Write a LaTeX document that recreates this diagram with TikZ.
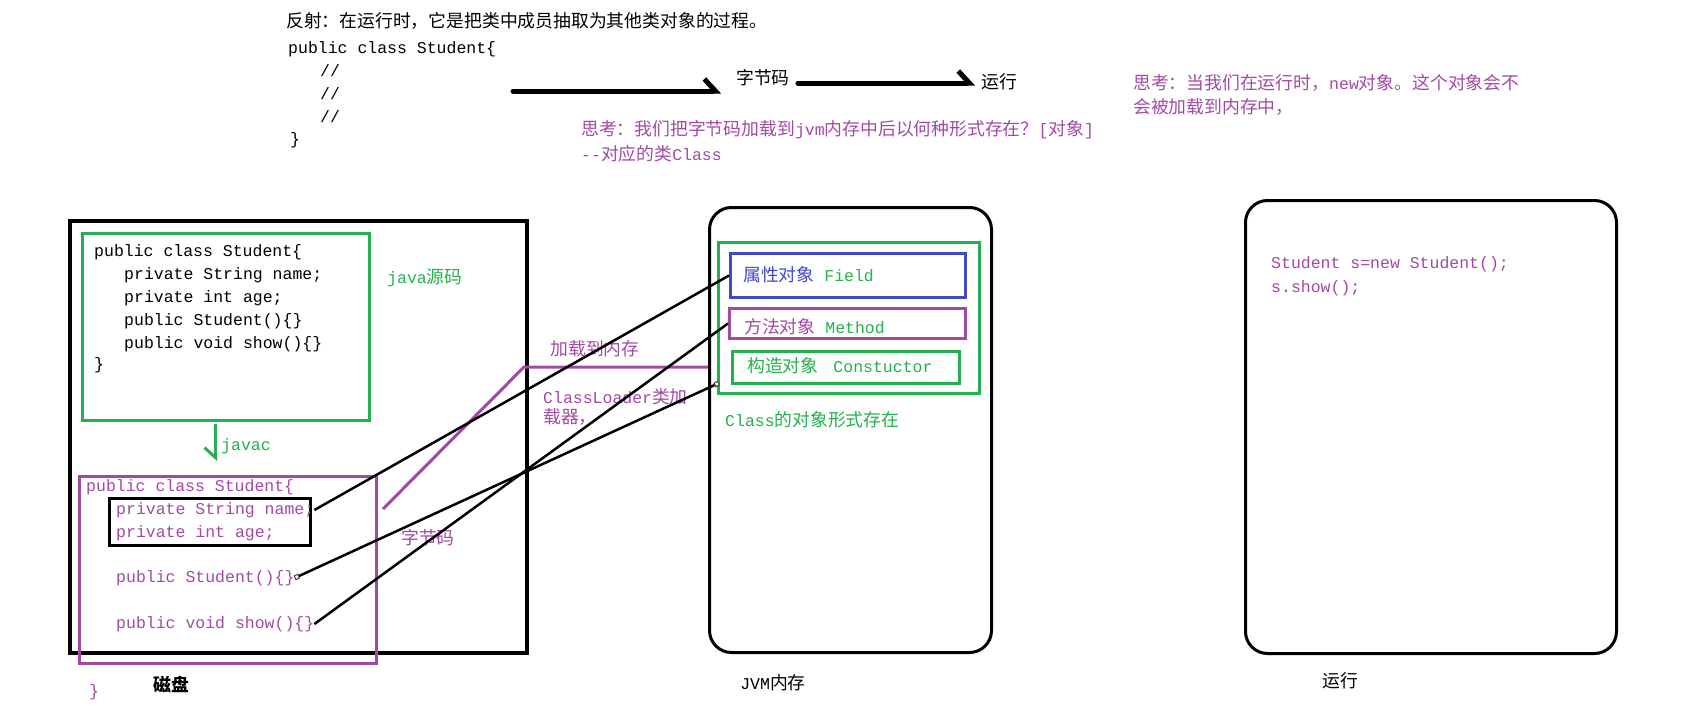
\documentclass[tikz,border=0pt]{standalone}
\usepackage{fontspec}
\setmonofont{Liberation Mono}
\newfontfamily\zhfont[Scale=1.08]{Noto Sans CJK SC}
\newcommand\zh[1]{{\zhfont #1}}
\usetikzlibrary{arrows.meta}
\definecolor{paintpurple}{RGB}{163,73,164}
\definecolor{paintgreen}{RGB}{34,177,76}
\definecolor{paintblue}{RGB}{63,72,204}

\begin{document}
\begin{tikzpicture}[x=1pt,y=-1pt,
    every node/.style={inner sep=0pt,font=\fontsize{16.5}{20}\selectfont\ttfamily},
    code/.style={anchor=west},
    plainbox/.style={draw,line width=3pt,anchor=north west},
    roundbox/.style={plainbox,rounded corners=22pt},
    wire/.style={line width=2.5pt},
    fatarrow/.style={line width=5pt,line cap=round,-{Straight Barb[left,length=11pt,width=24pt]}},
    thinarrow/.style={line width=3pt,-{Straight Barb[right,length=10pt,width=22pt]}},
    purpleline/.style={paintpurple,line width=3pt}]
      \useasboundingbox (0,0) rectangle (1690,728);

      % top: reflection note
      \node[code] (title) at (286,21) {\zh{反射：在运行时，它是把类中成员抽取为其他类对象的过程。}};
      \node[code] (tophead) at (288,49) {public class Student\{};
      \foreach \y [count=\i] in {71,94,117}
      \node[code] (topc\i) at (320,\y) {//};
      \node[code] (topend) at (290,140) {\}};

      \node (topbyte) at (763,78) {\zh{字节码}};
      \node (toprun) at (999,82) {\zh{运行}};
      \coordinate (srcout) at (513,91);
      \draw[fatarrow] (srcout) -- ([xshift=-15pt,yshift=-13pt]topbyte.west);
      \draw[fatarrow] ([xshift=8pt,yshift=-5pt]topbyte.east) -- ([xshift=-6pt,yshift=-1pt]toprun.west);

      % questions
      \node[code,text=paintpurple] (ask1) at (581,130) {\zh{思考：我们把字节码加载到}jvm\zh{内存中后以何种形式存在？}[\zh{对象}]};
      \node[code,text=paintpurple] (ask2) at (581,154) {-{}-\zh{对应的类}Class};
      \node[code,text=paintpurple] (ask3) at (1133,83) {\zh{思考：当我们在运行时，}new\zh{对象。这个对象会不}};
      \node[code,text=paintpurple] (ask4) at (1133,107) {\zh{会被加载到内存中，}};

      % disk
      \node[plainbox,line width=4pt,minimum width=457pt,minimum height=432pt] (disk) at (68,219) {};
      \node[plainbox,draw=paintgreen,minimum width=287pt,minimum height=187pt] (src) at (81,232) {};
      \node[code] (s1) at (94,252) {public class Student\{};
      \node[code] (s2) at (124,275) {private String name;};
      \node[code] (s3) at (124,298) {private int age;};
      \node[code] (s4) at (124,321) {public Student()\{\}};
      \node[code] (s5) at (124,344) {public void show()\{\}};
      \node[code] (s6) at (94,365) {\}};
      \node[code,text=paintgreen] (srclabel) at (387,278) {java\zh{源码}};

      % compiled class
      \node[plainbox,draw=paintpurple,minimum width=297pt,minimum height=187pt] (cls) at (78,475) {};
      \draw[thinarrow,paintgreen] ([xshift=-10.5pt,yshift=-2pt]src.south) -- ([xshift=-12.5pt,yshift=14pt]cls.north);
      \node[code,text=paintgreen] (javac) at (221,446) {javac};
      \node[code,text=paintpurple] (c1) at (86,487) {public class Student\{};
      \node[plainbox,minimum width=201pt,minimum height=47pt] (fields) at (108,497) {};
      \node[code,text=paintpurple] (cname) at (116,510) {private String name;};
      \node[code,text=paintpurple] (cage) at (116,533) {private int age;};
      \node[code,text=paintpurple] (cctor) at (116,578) {public Student()\{\}};
      \node[code,text=paintpurple] (cshow) at (116,624) {public void show()\{\}};
      \node[code,text=paintpurple] (cend) at (89,692) {\}};
      \node (disklabel) at (171,685) {\bfseries\zh{磁盘}};
      \node[text=paintpurple] (bytelabel) at (428,538) {\zh{字节码}};

      % jvm memory
      \node[roundbox,minimum width=282pt,minimum height=445pt] (jvm) at (708,206) {};
      \node[plainbox,draw=paintgreen,minimum width=261pt,minimum height=151pt] (classobj) at (717,241) {};
      \node[plainbox,draw=paintblue,minimum width=235pt,minimum height=44pt] (field) at (729,252) {};
      \node[code] (fieldtext) at (743,275) {\textcolor{paintblue}{\zh{属性对象}} \textcolor{paintgreen}{Field}};
      \node[plainbox,draw=paintpurple,minimum width=236pt,minimum height=30pt] (method) at (728,307) {};
      \node[code] (methodtext) at (744,327) {\textcolor{paintpurple}{\zh{方法对象}} \textcolor{paintgreen}{Method}};
      \node[plainbox,draw=paintgreen,minimum width=227pt,minimum height=32pt] (ctor) at (731,350) {};
      \node[code,text=paintgreen] (ctortext) at (747,366) {\zh{构造对象}\hspace{15pt}Constuctor};
      \node[code,text=paintgreen] (classtext) at (725,420) {Class\zh{的对象形式存在}};
      \node (jvmlabel) at (773,683) {JVM\zh{内存}};

      % class loader
      \coordinate (loadstart) at (383,509);
      \coordinate (loadbend) at (524,367);
      \draw[purpleline] (loadstart) -- (loadbend) -- (jvm.west |- loadbend);
      \node[text=paintpurple] (loadlabel) at (595,349) {\zh{加载到内存}};
      \node[code,text=paintpurple] (loader1) at (543,397) {ClassLoader\zh{类加}};
      \node[code,text=paintpurple] (loader2) at (543,417) {\zh{载器，}};

      % members to objects
      \draw[wire] (cname.east) -- (field.west);
      \draw[wire,{Square[length=5pt,width=5pt,line width=1pt,fill=white,color=darkgray]}-{Square[length=5pt,width=5pt,line width=1pt,fill=white,color=darkgray]}] (cctor.east) -- ([xshift=-12pt,yshift=2pt]ctor.south west);
      \draw[wire] (cshow.east) -- (method.west);

      % running
      \node[roundbox,minimum width=371pt,minimum height=453pt] (run) at (1244,199) {};
      \node[code,text=paintpurple] (run1) at (1271,264) {Student s=new Student();};
      \node[code,text=paintpurple] (run2) at (1271,288) {s.show();};
      \node (runlabel) at (1340,681) {\zh{运行}};
    \end{tikzpicture}
\end{document}
